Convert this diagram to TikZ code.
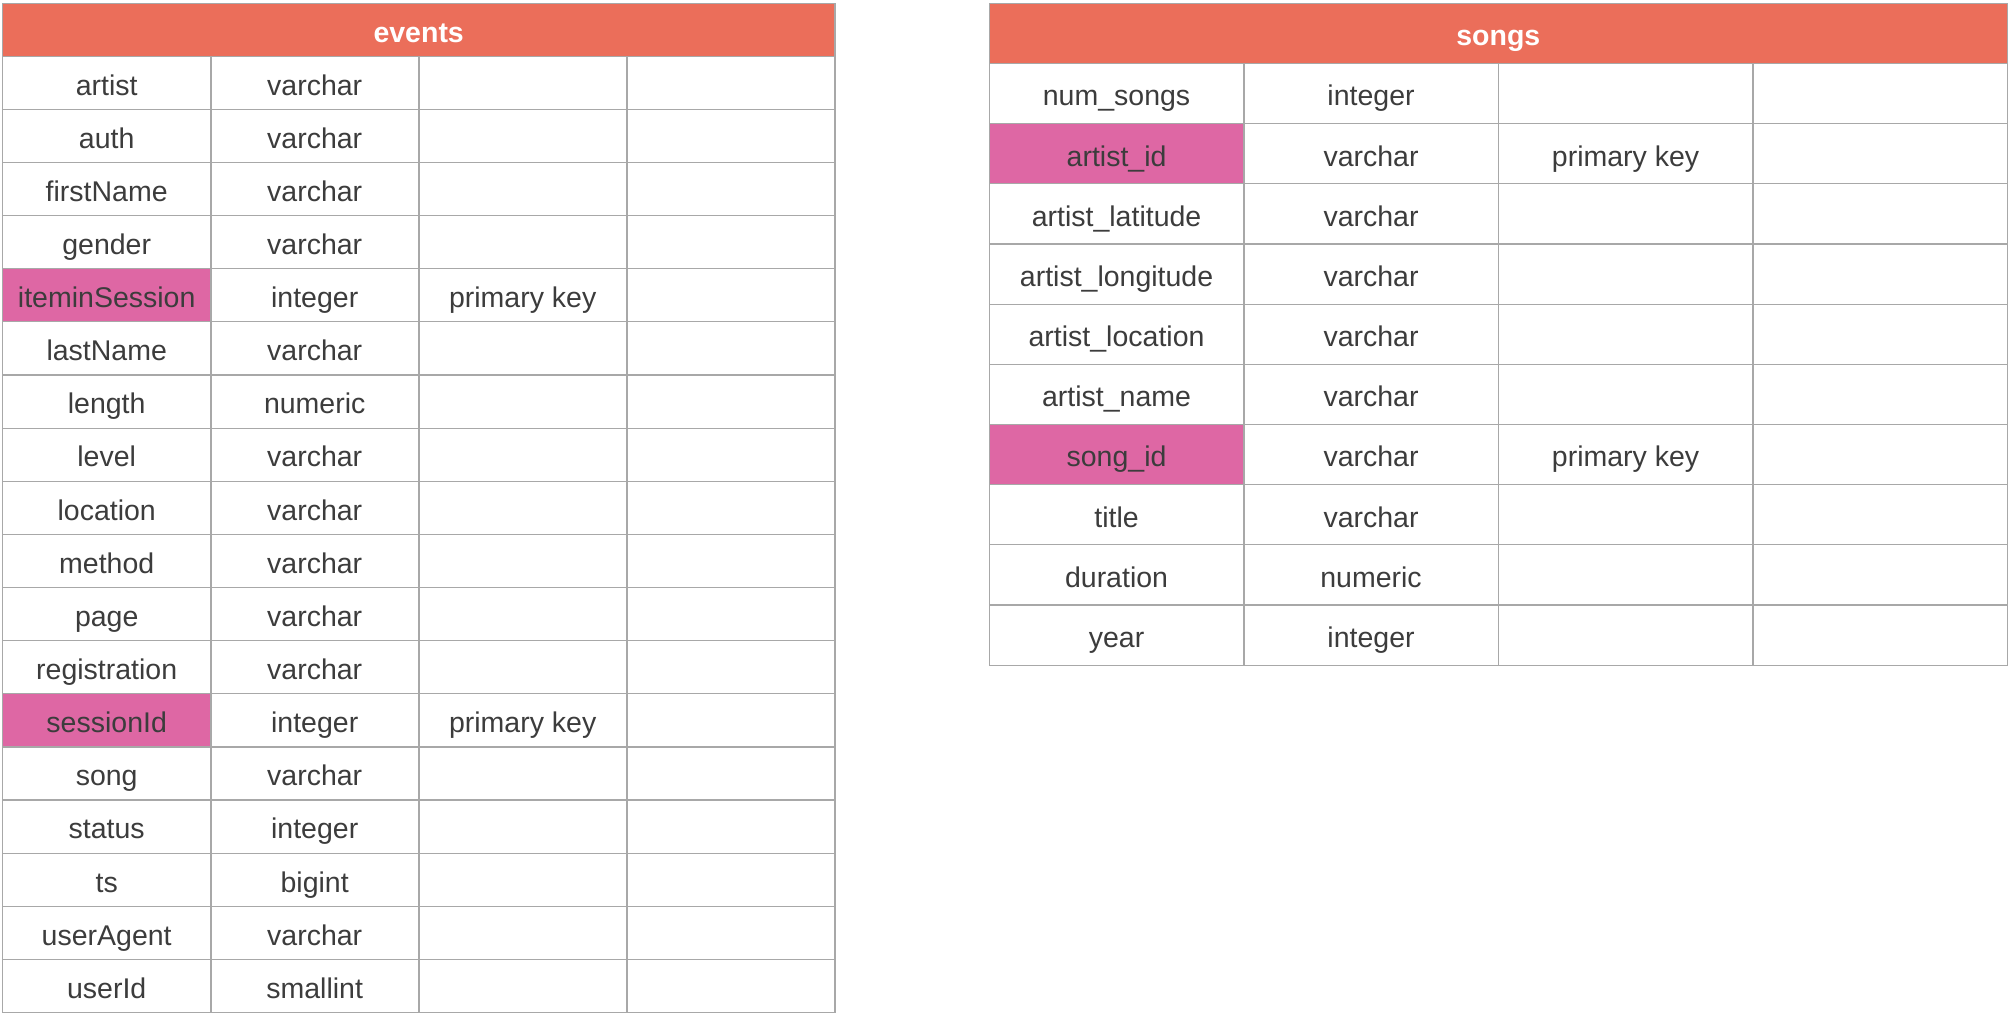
\documentclass[tikz,border=0pt]{standalone}
\usepackage{fontspec}
\setmainfont{Liberation Sans}
\definecolor{hdr}{HTML}{EB6E5A}
\definecolor{pk}{HTML}{DE67A4}
\definecolor{grid}{HTML}{A8A8A8}
\definecolor{txt}{HTML}{3C3C3C}
\tikzset{
  cell/.style={inner sep=0pt, text=txt,
    font=\fontsize{28.5}{30}\selectfont, text height=26pt, text depth=1pt},
  hdrcell/.style={cell, fill=hdr, text=white, font=\fontsize{28.5}{30}\selectfont\bfseries},
  gridline/.style={draw=grid, line width=1.2pt},
}
% events geometry
\def\ex{2.7}\def\ew{208}\def\ey{56}\def\eh{53.13}\def\etop{3.3}
% songs geometry
\def\sx{989.3}\def\sw{254.5}\def\sy{63.3}\def\sh{60.17}\def\stop{3.3}
\newcommand\erow[5]{%
  \node[cell, fill=#5, minimum width=\ew pt, minimum height=\eh pt] (e-#1-a) at ({\ex+0.5*\ew},{\ey+(#1-0.5)*\eh}) {#2};
  \node[cell, minimum width=\ew pt, minimum height=\eh pt] (e-#1-b) at ({\ex+1.5*\ew},{\ey+(#1-0.5)*\eh}) {#3};
  \node[cell, minimum width=\ew pt, minimum height=\eh pt] (e-#1-c) at ({\ex+2.5*\ew},{\ey+(#1-0.5)*\eh}) {#4};
  \node[cell, minimum width=\ew pt, minimum height=\eh pt] (e-#1-d) at ({\ex+3.5*\ew},{\ey+(#1-0.5)*\eh}) {};
}
\newcommand\srow[5]{%
  \node[cell, fill=#5, minimum width=\sw pt, minimum height=\sh pt] (s-#1-a) at ({\sx+0.5*\sw},{\sy+(#1-0.5)*\sh}) {#2};
  \node[cell, minimum width=\sw pt, minimum height=\sh pt] (s-#1-b) at ({\sx+1.5*\sw},{\sy+(#1-0.5)*\sh}) {#3};
  \node[cell, minimum width=\sw pt, minimum height=\sh pt] (s-#1-c) at ({\sx+2.5*\sw},{\sy+(#1-0.5)*\sh}) {#4};
  \node[cell, minimum width=\sw pt, minimum height=\sh pt] (s-#1-d) at ({\sx+3.5*\sw},{\sy+(#1-0.5)*\sh}) {};
}
\begin{document}
\begin{tikzpicture}[x=1pt,y=-1pt]
\useasboundingbox (0,0) rectangle (2010,1018);
% events header
\node[hdrcell, minimum width={4*\ew pt}, minimum height={(\ey-\etop)*1pt}] (ehead) at ({\ex+2*\ew},{(\ey+\etop)/2}) {events};
\erow{1}{artist}{varchar}{}{white}
\erow{2}{auth}{varchar}{}{white}
\erow{3}{firstName}{varchar}{}{white}
\erow{4}{gender}{varchar}{}{white}
\erow{5}{iteminSession}{integer}{primary key}{pk}
\erow{6}{lastName}{varchar}{}{white}
\erow{7}{length}{numeric}{}{white}
\erow{8}{level}{varchar}{}{white}
\erow{9}{location}{varchar}{}{white}
\erow{10}{method}{varchar}{}{white}
\erow{11}{page}{varchar}{}{white}
\erow{12}{registration}{varchar}{}{white}
\erow{13}{sessionId}{integer}{primary key}{pk}
\erow{14}{song}{varchar}{}{white}
\erow{15}{status}{integer}{}{white}
\erow{16}{ts}{bigint}{}{white}
\erow{17}{userAgent}{varchar}{}{white}
\erow{18}{userId}{smallint}{}{white}
\foreach \i in {1,...,17} {\draw[gridline] (e-\i-a.south west) -- (e-\i-d.south east);}
\draw[gridline] (ehead.north west) rectangle (e-18-d.south east);
\draw[gridline] (ehead.south west) -- (ehead.south east);
\foreach \c in {a,b,c} {\draw[gridline] (e-1-\c.north east) -- (e-18-\c.south east);}
% songs header
\node[hdrcell, minimum width={4*\sw pt}, minimum height={(\sy-\stop)*1pt}] (shead) at ({\sx+2*\sw},{(\sy+\stop)/2}) {songs};
\srow{1}{num\_songs}{integer}{}{white}
\srow{2}{artist\_id}{varchar}{primary key}{pk}
\srow{3}{artist\_latitude}{varchar}{}{white}
\srow{4}{artist\_longitude}{varchar}{}{white}
\srow{5}{artist\_location}{varchar}{}{white}
\srow{6}{artist\_name}{varchar}{}{white}
\srow{7}{song\_id}{varchar}{primary key}{pk}
\srow{8}{title}{varchar}{}{white}
\srow{9}{duration}{numeric}{}{white}
\srow{10}{year}{integer}{}{white}
\foreach \i in {1,...,9} {\draw[gridline] (s-\i-a.south west) -- (s-\i-d.south east);}
\draw[gridline] (shead.north west) rectangle (s-10-d.south east);
\draw[gridline] (shead.south west) -- (shead.south east);
\foreach \c in {a,b,c} {\draw[gridline] (s-1-\c.north east) -- (s-10-\c.south east);}
\end{tikzpicture}
\end{document}
